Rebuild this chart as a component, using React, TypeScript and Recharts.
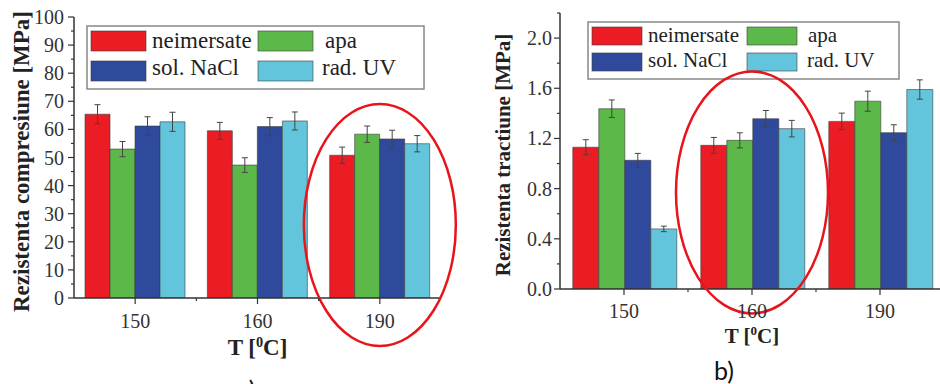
import React from 'react'
import { BarChart, Bar, XAxis, YAxis, ErrorBar, ReferenceDot } from 'recharts'

// categories (temperature)
const temps = ['150', '160', '190']

// series labels / colours
const seriesNames = ['neimersate', 'apa', 'sol. NaCl', 'rad. UV']
const seriesColors = ['#ec1c24', '#5cb848', '#2f4a9c', '#63c5dc']

// a) compression strength [MPa]
const compNeimersate = [65.4, 59.5, 50.8]
const compApa = [53.0, 47.3, 58.3]
const compNaCl = [61.2, 61.0, 56.6]
const compUV = [62.7, 63.0, 54.9]
const compNeimersateErr = [3.4, 3.0, 2.9]
const compApaErr = [2.7, 2.6, 2.9]
const compNaClErr = [3.3, 3.2, 3.1]
const compUVErr = [3.4, 3.2, 2.9]
const compTicks = [0, 5, 10, 15, 20, 25, 30, 35, 40, 45, 50, 55, 60, 65, 70, 75, 80, 85, 90, 95, 100]

// b) tensile strength [MPa]
const tractNeimersate = [1.13, 1.145, 1.336]
const tractApa = [1.437, 1.185, 1.497]
const tractNaCl = [1.026, 1.357, 1.246]
const tractUV = [0.479, 1.278, 1.59]
const tractNeimersateErr = [0.06, 0.063, 0.066]
const tractApaErr = [0.07, 0.06, 0.08]
const tractNaClErr = [0.055, 0.066, 0.063]
const tractUVErr = [0.022, 0.066, 0.077]
const tractTicks = [0, 0.2, 0.4, 0.6, 0.8, 1.0, 1.2, 1.4, 1.6, 1.8, 2.0, 2.2]

const SERIF = '"Liberation Serif", "Times New Roman", serif'

const buildRows = (vals: number[][], errs: number[][]) =>
    temps.map((t, i) => {
        const row: any = { T: t }
        vals.forEach((v, k) => { row['s' + k] = v[i] })
        errs.forEach((e, k) => { row['e' + k] = e[i] })
        return row
    })

const compData = buildRows(
    [compNeimersate, compApa, compNaCl, compUV],
    [compNeimersateErr, compApaErr, compNaClErr, compUVErr]
)
const tractData = buildRows(
    [tractNeimersate, tractApa, tractNaCl, tractUV],
    [tractNeimersateErr, tractApaErr, tractNaClErr, tractUVErr]
)

interface PanelProps {
    data: any[];
    left: number;
    margin: { top: number; right: number; left: number; bottom: number };
    yWidth: number;
    xHeight: number;
    domain: [number, number];
    ticks: number[];
    isMajor: (v: number) => boolean;
    fmt: (v: number) => string;
    tickFont: number;
    tickGap: number;
    xLabelDy: number;
    yTitle: string;
    titleFont: number;
    yTitleX: number;
    xTitleY: number;
    gap: string;
    ellipse: { x: string; y: number };
}

function Panel(p: PanelProps) {
    const YTick = (props: any) => {
        const { x, y, payload } = props
        const major = p.isMajor(payload.value)
        return (
            <g>
                <line x1={x} x2={x - (major ? 6 : 3)} y1={y} y2={y} stroke="#333" strokeWidth={1.2} />
                {major && (
                    <text x={x - p.tickGap} y={y} dy="0.35em" textAnchor="end" fontFamily={SERIF} fontSize={p.tickFont} fill="#333">
                        {p.fmt(payload.value)}
                    </text>
                )}
            </g>
        )
    }

    const XTick = (props: any) => {
        const { x, y, payload, index } = props
        const half = payload.offset || 0
        return (
            <g>
                <line x1={x} x2={x} y1={y} y2={y + 6} stroke="#333" strokeWidth={1.2} />
                {half > 0 && index < temps.length - 1 && (
                    <line x1={x + half} x2={x + half} y1={y} y2={y + 3} stroke="#333" strokeWidth={1.2} />
                )}
                <text x={x} y={y + p.xLabelDy} textAnchor="middle" fontFamily={SERIF} fontSize={p.tickFont} fill="#333">
                    {payload.value}
                </text>
            </g>
        )
    }

    const yTitle = (props: any) => {
        const vb = props.viewBox || { y: 0, height: 0 }
        const cy = vb.y + vb.height / 2 + 4
        return (
            <text x={p.yTitleX} y={cy} transform={`rotate(-90 ${p.yTitleX} ${cy})`} textAnchor="middle"
                fontFamily={SERIF} fontWeight="bold" fontSize={p.titleFont} fill="#222">
                {p.yTitle}
            </text>
        )
    }

    const xTitle = (props: any) => {
        const vb = props.viewBox || { x: 0, width: 0 }
        const cx = vb.x + vb.width / 2
        return (
            <text x={cx} y={p.xTitleY} textAnchor="middle" fontFamily={SERIF} fontWeight="bold" fontSize={p.titleFont} fill="#222">
                T [<tspan dy={-8} fontSize={p.titleFont * 0.62}>0</tspan><tspan dy={8}>C]</tspan>
            </text>
        )
    }

    const EllipseShape = (props: any) => (
        <ellipse cx={props.cx} cy={props.cy} rx={76} ry={121} fill="none" stroke="#e8141c" strokeWidth={2.5} />
    )

    return (
        <div style={{ position: 'absolute', left: p.left, top: 0 }}>
            <BarChart width={470} height={384} data={p.data} margin={p.margin} barCategoryGap={p.gap} barGap={0}>
                <XAxis dataKey="T" height={p.xHeight} tickSize={0} tickMargin={0} tick={<XTick />} tickLine={false}
                    axisLine={{ stroke: '#333', strokeWidth: 1.5 }} interval={0} label={xTitle} />
                <XAxis xAxisId="top" dataKey="T" orientation="top" height={0} tick={false} tickLine={false}
                    axisLine={{ stroke: '#666', strokeWidth: 1.2 }} />
                <YAxis width={p.yWidth} domain={p.domain} ticks={p.ticks} interval={0} tickSize={0} tickMargin={0}
                    tick={<YTick />} tickLine={false} axisLine={{ stroke: '#333', strokeWidth: 1.5 }}
                    allowDataOverflow label={yTitle} />
                <YAxis yAxisId="right" orientation="right" width={0} domain={p.domain} tick={false} tickLine={false}
                    axisLine={{ stroke: '#666', strokeWidth: 1.2 }} />
                {seriesColors.map((c, k) => (
                    <Bar key={k} dataKey={'s' + k} name={seriesNames[k]} fill={c} stroke="rgba(60,60,60,0.6)"
                        strokeWidth={1} isAnimationActive={false}>
                        <ErrorBar dataKey={'e' + k} width={3} stroke="#444" strokeWidth={1} isAnimationActive={false} />
                    </Bar>
                ))}
                <ReferenceDot x={p.ellipse.x} y={p.ellipse.y} ifOverflow="visible" shape={<EllipseShape />} />
            </BarChart>
        </div>
    )
}

interface LegendBoxProps {
    x: number; y: number; w: number; h: number;
    sw: number; sh: number; pad: number; row2: number;
    col2: number; textX: number[]; baselines: number[]; font: number;
}

// order in the legend box: row1 = neimersate, apa ; row2 = sol. NaCl, rad. UV
const legendOrder = [[0, 1], [2, 3]]

function LegendBox(l: LegendBoxProps) {
    return (
        <svg width={l.w + 2} height={l.h + 2} style={{ position: 'absolute', left: l.x - 1, top: l.y - 1 }}>
            <rect x={1} y={1} width={l.w} height={l.h} fill="#fff" stroke="#888" strokeWidth={1.5} />
            {legendOrder.map((row, r) =>
                row.map((k, c) => {
                    const sx = 1 + (c === 0 ? l.pad : l.col2)
                    const sy = 1 + (r === 0 ? l.pad + 1 : l.row2)
                    return (
                        <g key={k}>
                            <rect x={sx} y={sy} width={l.sw} height={l.sh} fill={seriesColors[k]} stroke="rgba(60,60,60,0.6)" strokeWidth={1} />
                            <text x={1 + l.textX[k]} y={1 + l.baselines[r]} fontFamily={SERIF} fontSize={l.font} fill="#222">
                                {seriesNames[k]}
                            </text>
                        </g>
                    )
                })
            )}
        </svg>
    )
}

export default function App() {
    return (
        <div style={{ position: 'absolute', left: 0, top: 0, width: 940, height: 384, overflow: 'hidden', background: '#fff' }}>
            <LegendBox x={87} y={26} w={337} h={63} sw={55} sh={20} pad={4} row2={35} col2={171}
                textX={[65, 238, 65, 235]} baselines={[22, 49]} font={23} />
            <LegendBox x={588} y={22} w={311} h={57} sw={50} sh={18} pad={4} row2={31} col2={159}
                textX={[60, 220, 60, 219]} baselines={[20, 45]} font={21} />

            <Panel data={compData} left={0} margin={{ top: 17, right: 29, left: 0, bottom: 0 }} yWidth={74} xHeight={86}
                domain={[0, 100]} ticks={compTicks} isMajor={(v) => v % 10 === 0} fmt={(v) => String(v)}
                tickFont={20} tickGap={10} xLabelDy={30} yTitle="Rezistenta  compresiune [MPa]" titleFont={23}
                yTitleX={29} xTitleY={355} gap="9%" ellipse={{ x: '190', y: 26 }} />

            <Panel data={tractData} left={480} margin={{ top: 13, right: 6, left: 0, bottom: 0 }} yWidth={80} xHeight={95}
                domain={[0, 2.2]} ticks={tractTicks} isMajor={(v) => Math.round(v * 10) % 4 === 0} fmt={(v) => v.toFixed(1)}
                tickFont={20} tickGap={8} xLabelDy={29} yTitle="Rezistenta tractiune [MPa]" titleFont={21}
                yTitleX={30} xTitleY={343} gap="10%" ellipse={{ x: '160', y: 0.77 }} />

            <svg width={940} height={384} style={{ position: 'absolute', left: 0, top: 0, pointerEvents: 'none' }}>
                <text x={724} y={380} textAnchor="middle" fontFamily='Lato, "Open Sans", sans-serif' fontSize={25} fill="#111">b)</text>
                <text x={246} y={399} textAnchor="middle" fontFamily='Lato, "Open Sans", sans-serif' fontSize={25} fill="#111">a)</text>
            </svg>
        </div>
    )
}
